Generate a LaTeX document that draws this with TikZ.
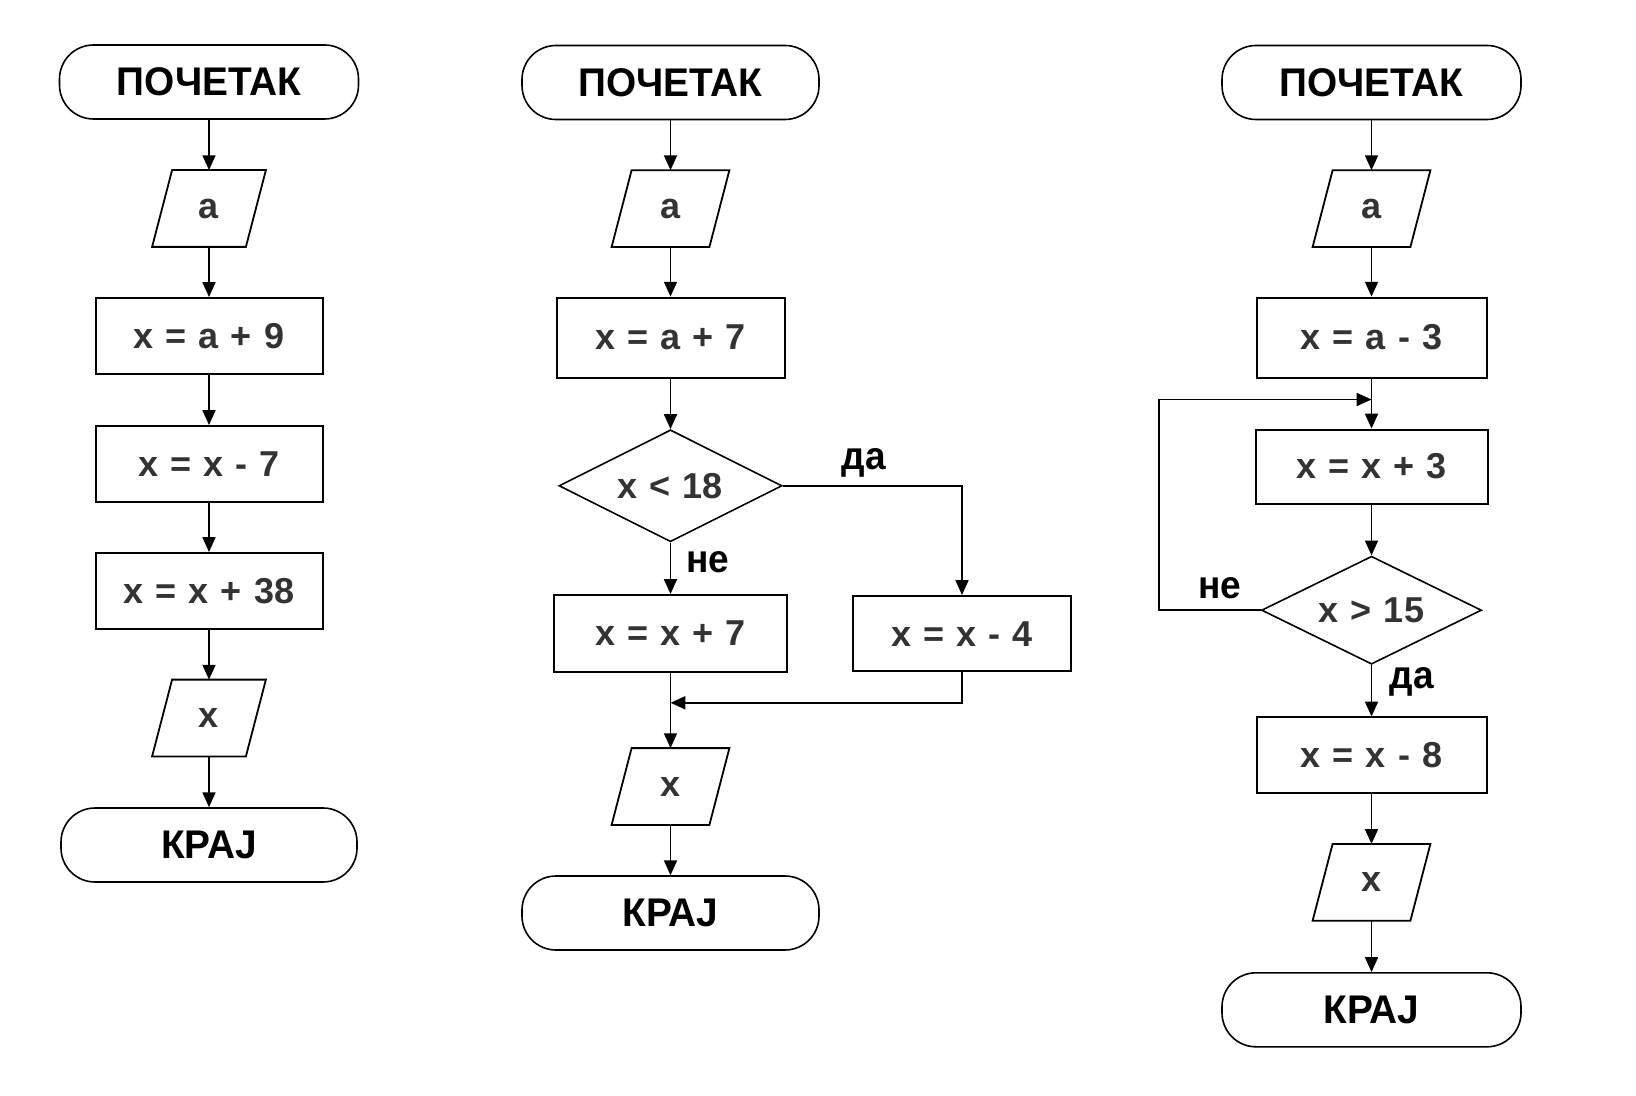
\documentclass[tikz,border=0pt]{standalone}
\usepackage{fontspec}
\setmainfont{Liberation Sans}
\newfontfamily\termfont{Liberation Sans}[FakeStretch=0.97]
\newfontfamily\lblfont{Liberation Sans}[FakeStretch=0.95]
\newfontfamily\boxfont{Liberation Sans}[WordSpace=1.2]
\usetikzlibrary{shapes.geometric,arrows.meta}
\definecolor{txtgray}{HTML}{333333}
\tikzset{
  term/.style={draw, line width=0.8pt, rounded corners=17pt, minimum width=149.5pt,
    minimum height=37pt, inner sep=0pt, font=\termfont\bfseries\fontsize{20pt}{24pt}\selectfont},
  procbox/.style={draw, line width=1pt, minimum width=113.5pt, minimum height=38pt,
    inner sep=0pt, font=\boxfont\bfseries\fontsize{18pt}{21pt}\selectfont, text=txtgray},
  io/.style={rectangle, minimum width=56.5pt, minimum height=38pt, inner sep=0pt,
    font=\boxfont\bfseries\fontsize{18pt}{21pt}\selectfont, text=txtgray},
  ioline/.style={line width=0.9pt, line join=miter},
  decision/.style={draw, diamond, aspect=2, minimum width=111.5pt, minimum height=56pt,
    inner sep=0pt, line width=0.8pt, font=\boxfont\bfseries\fontsize{18pt}{21pt}\selectfont, text=txtgray},
  lbl/.style={font=\lblfont\bfseries\fontsize{19.5pt}{22pt}\selectfont, inner sep=0pt},
  arr/.style={-{Triangle[length=7.4pt,width=6.5pt]}, line width=0.8pt},
  ln/.style={line width=0.8pt},
}
\newcommand\drawpara[1]{\draw[ioline] ([xshift=10pt]#1.north west) -- (#1.north east)
  -- ([xshift=-10pt]#1.south east) -- (#1.south west) -- cycle;}
\begin{document}
\begin{tikzpicture}[x=0.5pt,y=-0.5pt]
\useasboundingbox[fill=white] (0,0) rectangle (1636,1096);
% column 1
\node[term] (s1) at (209,82) {ПОЧЕТАК};
\node[io] (ia1) at (209,208.5) {a};
\node[procbox] (b11) at (209,336) {x = a + 9};
\node[procbox] (b12) at (209,464) {x = x - 7};
\node[procbox] (b13) at (209,591) {x = x + 38};
\node[io] (ox1) at (209,718) {x};
\node[term, minimum width=148pt] (e1) at (209,845) {КРАЈ};
\drawpara{ia1}
\drawpara{ox1}
\draw[arr] (s1.south) -- (ia1.north);
\draw[arr] (ia1.south) -- (b11.north);
\draw[arr] (b11.south) -- (b12.north);
\draw[arr] (b12.south) -- (b13.north);
\draw[arr] (b13.south) -- (ox1.north);
\draw[arr] (ox1.south) -- (e1.north);
% column 2
\node[term, minimum width=148.5pt] (s2) at (670.5,82.5) {ПОЧЕТАК};
\node[io, minimum width=58.5pt] (ia2) at (670.5,208.6) {a};
\node[procbox, minimum width=114pt, minimum height=40pt] (b21) at (670.5,337.6) {x = a + 7};
\node[decision] (d2) at (670.5,485.8) {x < 18};
\node[procbox, minimum width=116.75pt, minimum height=38.5pt] (b22) at (670.5,633.5) {x = x + 7};
\node[procbox, minimum width=109pt, minimum height=37.7pt] (b23) at (962,633.7) {x = x - 4};
\coordinate (j2) at (670.5,702.8);
\node[io, minimum width=58.5pt] (ox2) at (670.5,786.5) {x};
\node[term, minimum width=148.5pt] (e2) at (670.5,913) {КРАЈ};
\node[lbl] (da2) at (864,463) {да};
\node[lbl] (ne2) at (707.5,562) {не};
\drawpara{ia2}
\drawpara{ox2}
\draw[arr] (s2.south) -- (ia2.north);
\draw[arr] (ia2.south) -- (b21.north);
\draw[arr] (b21.south) -- (d2.north);
\draw[arr] (d2.south) -- (b22.north);
\draw[arr] (d2.east) -| (b23.north);
\draw[ln] (b22.south) -- (j2);
\draw[arr] (b23.south) |- (j2);
\draw[arr] (j2) -- (ox2.north);
\draw[arr] (ox2.south) -- (e2.north);
% column 3
\node[term] (s3) at (1371.5,82.5) {ПОЧЕТАК};
\node[io, minimum width=58.5pt] (ia3) at (1371.5,208.6) {a};
\node[procbox, minimum width=115pt, minimum height=40pt] (b31) at (1371.5,337.6) {x = a - 3};
\coordinate (m3) at (1371.5,399.5);
\coordinate (l3) at (1159,399.5);
\node[procbox, minimum width=116pt, minimum height=37pt] (b32) at (1371.5,466.5) {x = x + 3};
\node[decision, minimum width=110pt, minimum height=54pt] (d3) at (1371.5,610.2) {x > 15};
\node[procbox, minimum width=115pt, minimum height=37.6pt] (b33) at (1371.5,755) {x = x - 8};
\node[io, minimum width=58.5pt] (ox3) at (1371.5,882.3) {x};
\node[term] (e3) at (1371.5,1009.8) {КРАЈ};
\node[lbl] (ne3) at (1219.5,588) {не};
\node[lbl] (da3) at (1412,681.5) {да};
\drawpara{ia3}
\drawpara{ox3}
\draw[arr] (s3.south) -- (ia3.north);
\draw[arr] (ia3.south) -- (b31.north);
\draw[arr] (b31.south) -- (b32.north);
\draw[arr] (d3.west) -| (l3) -- (m3);
\draw[arr] (b32.south) -- (d3.north);
\draw[arr] (d3.south) -- (b33.north);
\draw[arr] (b33.south) -- (ox3.north);
\draw[arr] (ox3.south) -- (e3.north);
\end{tikzpicture}
\end{document}
